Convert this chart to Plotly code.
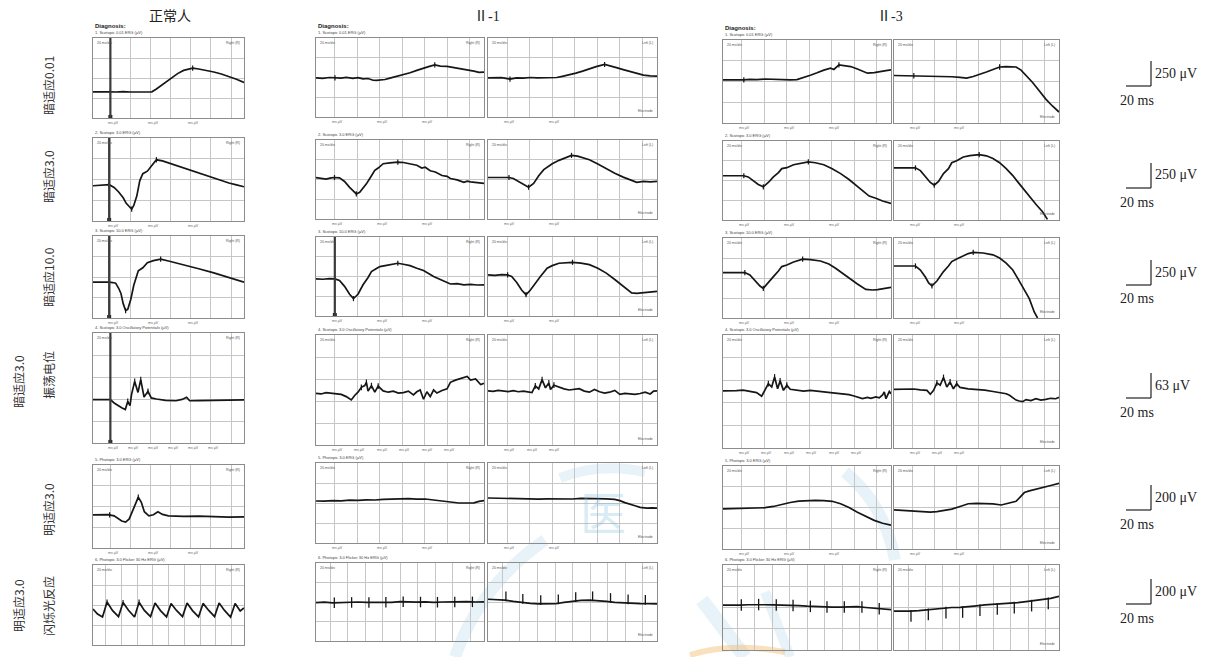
import numpy as np
import plotly.graph_objects as go

W, H = 1216, 657

# ---------------- data (x: % of sweep width, y: grid divisions from bottom) ----------------
# Row 1  scotopic 0.01
N1_x = [0,5,11.5,15,20,25,30,35,39,42,45,48,52,56,60,63,66,70,75,80,85,90,95,100]
N1_y = [1.31,1.32,1.31,1.30,1.32,1.30,1.31,1.30,1.31,1.45,1.62,1.80,2.02,2.22,2.38,2.45,2.49,2.45,2.38,2.30,2.20,2.08,1.94,1.78]
A1L_x = [0,4,8,11.3,15,18,22,25,28,31,34,36,38,41,44,48,52,56,60,64,67,70.7,74,78,82,86,90,94,97,100]
A1L_y = [1.98,1.96,2.00,1.98,1.97,2.01,1.96,1.99,1.93,1.95,1.86,1.85,1.86,1.90,1.97,2.05,2.14,2.24,2.36,2.48,2.55,2.64,2.58,2.56,2.50,2.47,2.40,2.32,2.26,2.27]
A1R_x = [0,4,8,13,17,21,25,29,33,37,40.7,44,48,52,56,60,64,69,72,76,80,84,88,92,96,100]
A1R_y = [1.98,1.97,1.99,1.92,1.98,1.97,2.00,1.98,1.99,2.00,2.00,2.06,2.13,2.22,2.32,2.44,2.55,2.66,2.60,2.50,2.40,2.30,2.20,2.12,2.08,2.07]
B1L_x = [0,5,10,12.4,16,20,25,30,35,40,44,48,52,56,60,64,66,69,72,76,80,84,86,90,94,97,100]
B1L_y = [2.08,2.07,2.09,2.08,2.10,2.09,2.12,2.10,2.09,2.08,2.09,2.18,2.30,2.42,2.55,2.64,2.58,2.80,2.78,2.72,2.60,2.45,2.40,2.43,2.50,2.52,2.56]
B1R_x = [0,5,10,12,16,20,25,30,35,40,44,48,52,56,60,64,68,72,74,77,80,84,88,92,96,100]
B1R_y = [2.29,2.28,2.30,2.28,2.27,2.26,2.25,2.24,2.23,2.20,2.16,2.24,2.34,2.46,2.58,2.70,2.72,2.73,2.70,2.55,2.30,1.95,1.55,1.15,0.82,0.53]

# Row 2  scotopic 3.0
N2_x = [0,5,10.7,14,17,20,22,24,25.6,27,29,31,33,36,40,42,46,52,60,68,75,82,90,95,100]
N2_y = [1.70,1.73,1.75,1.62,1.40,1.12,0.85,0.70,0.57,0.75,1.20,1.95,2.28,2.40,2.78,2.95,2.90,2.75,2.55,2.38,2.20,2.02,1.83,1.74,1.65]
A2L_x = [0,3,6,9,11,14,17,20,22,24,26,28,30,32,35,37,40,44,48.7,52,56,60,63,65,68,71,75,78,80,84,88,90,92,95,100]
A2L_y = [2.10,2.05,2.02,2.08,2.10,2.08,1.90,1.60,1.42,1.27,1.35,1.55,1.78,2.05,2.46,2.58,2.80,2.84,2.88,2.86,2.80,2.72,2.58,2.62,2.44,2.38,2.20,2.16,2.05,1.98,1.86,1.92,1.88,1.84,1.80]
A2R_x = [0,4,8,12.4,15,18,21,24,27,30,33,35,38,42,46,49.4,53,57,60,65,70,75,80,84,88,92,96,100]
A2R_y = [2.10,2.11,2.09,2.10,2.05,1.90,1.72,1.61,1.80,2.19,2.50,2.62,2.80,2.97,3.10,3.22,3.18,3.08,3.00,2.78,2.54,2.32,2.12,1.98,1.86,1.90,1.88,1.90]
B2L_x = [0,5,10,12.4,15,18,21,24,27,30,33,35,38,42,46,50.8,55,60,65,70,75,80,84,87,91,95,100]
B2L_y = [2.24,2.24,2.25,2.24,2.18,2.00,1.80,1.68,1.90,2.18,2.40,2.60,2.65,2.80,2.88,2.94,2.90,2.80,2.60,2.35,2.05,1.68,1.40,1.21,1.10,0.96,0.84]
B2R_x = [0,5,10,13,16,19,22,24.4,27,30,33,35,38,42,46,51.6,56,60,64,68,72,75,78,82,86,90,93]
B2R_y = [2.64,2.63,2.65,2.64,2.50,2.20,1.90,1.76,1.95,2.35,2.60,2.90,3.00,3.19,3.26,3.31,3.25,3.11,2.90,2.60,2.25,1.93,1.62,1.18,0.80,0.42,0.03]

# Row 3  scotopic 10.0
N3_x = [0,5,10.7,13,15,17,18.5,20,21.6,23,25,27,30,33,36,40,44.8,50,60,70,80,90,100]
N3_y = [1.75,1.76,1.75,1.73,1.70,1.45,1.20,0.70,0.36,0.42,0.90,1.60,2.30,2.45,2.70,2.80,2.87,2.78,2.60,2.40,2.20,1.98,1.75]
A3L_x = [0,4,8,11.2,14,17,20,22.3,25,28,31,33,36,38,42,45,48.7,52,56,60,64,67,70,74,77,80,84,88,92,96,100]
A3L_y = [1.88,1.86,1.89,1.88,1.80,1.50,1.10,0.88,1.10,1.58,1.95,2.25,2.40,2.50,2.56,2.62,2.67,2.62,2.55,2.42,2.30,2.15,2.00,1.85,1.75,1.62,1.64,1.58,1.60,1.57,1.58]
A3R_x = [0,4,8,11.6,14,17,20,22.5,25,28,31,35,38,42,46,50,55,60,65,70,75,80,85,88,92,96,100]
A3R_y = [2.08,2.06,2.09,2.08,2.00,1.70,1.30,1.08,1.30,1.67,2.00,2.42,2.55,2.67,2.70,2.72,2.68,2.60,2.42,2.17,1.85,1.50,1.17,1.15,1.18,1.22,1.25]
B3L_x = [0,5,10,13,16,19,22,24,27,30,33,35,38,42,47.4,52,58,63,67,71,75,80,85,89,92,96,100]
B3L_y = [2.27,2.27,2.28,2.27,2.15,1.85,1.60,1.48,1.75,2.07,2.35,2.57,2.65,2.80,2.94,2.92,2.85,2.70,2.49,2.25,1.98,1.70,1.43,1.40,1.42,1.48,1.53]
B3R_x = [0,5,10,13,16,19,21,23,26,30,33,35,38,42,45,48,54,60,64,68,72,75,78,82,85,87]
B3R_y = [2.60,2.59,2.61,2.60,2.40,2.05,1.75,1.61,1.85,2.32,2.60,2.82,2.95,3.12,3.22,3.28,3.25,3.16,3.00,2.74,2.40,1.98,1.55,0.97,0.30,0.00]

# Row 4  oscillatory potentials (5 divisions)
N4_x = [0,5,11.5,14,17,19,21.4,22.5,23,24.5,25.5,27.6,29.8,31.6,33.8,36.4,38.6,42,48,55,59,62,64,70,80,90,100]
N4_y = [1.97,1.97,1.97,1.82,1.68,1.60,1.52,1.80,1.89,1.70,2.20,2.80,2.30,2.88,2.09,2.35,2.05,2.00,1.94,1.92,1.98,2.08,1.92,1.93,1.95,1.94,1.96]
A4L_x = [0,3,6,9,12,15,18,21,23,25,27,29,30,31,33,35,37,40,43,46,49,52,55,58,60,62,64,66,68,70,72,75,78,80,83,86,90,92,95,98,100]
A4L_y = [2.35,2.32,2.38,2.36,2.33,2.30,2.20,2.05,2.25,2.40,2.62,2.70,2.85,2.45,2.70,2.40,2.68,2.46,2.40,2.45,2.36,2.38,2.45,2.28,2.42,2.50,2.08,2.42,2.20,2.50,2.36,2.48,2.55,2.85,2.95,3.02,3.12,2.95,3.00,2.75,2.80]
A4R_x = [0,3,6,9,12,15,18,21,24,26,28,30,32,34,36,37,39,42,45,48,51,54,57,60,63,66,69,72,75,78,81,84,87,90,93,96,98,100]
A4R_y = [2.46,2.44,2.48,2.45,2.43,2.47,2.42,2.45,2.40,2.38,2.69,2.55,2.97,2.60,2.82,2.52,2.72,2.62,2.55,2.50,2.52,2.56,2.45,2.40,2.52,2.42,2.36,2.40,2.48,2.30,2.35,2.32,2.30,2.34,2.40,2.32,2.45,2.46]
B4L_x = [0,4,8,12,16,20,23,25,27,29,30.7,32.5,34,36,38,40,44,48,52,56,60,64,68,72,75,78,81,83,86,88,91,93,95,96,97,99,100]
B4L_y = [2.53,2.52,2.54,2.56,2.50,2.45,2.29,2.60,2.85,2.70,3.14,2.62,2.97,2.55,2.78,2.60,2.56,2.52,2.55,2.50,2.48,2.45,2.42,2.38,2.36,2.30,2.25,2.19,2.24,2.20,2.26,2.22,2.35,2.48,2.18,2.50,2.40]
B4R_x = [0,4,8,12,16,20,22,24,26,28,30,32,34,36,38,40,45,50,55,60,64,68,70,72,74,76,78,80,83,86,89,92,95,98,100]
B4R_y = [2.59,2.60,2.58,2.61,2.57,2.55,2.38,2.55,2.88,2.78,3.12,2.70,2.92,2.62,2.85,2.68,2.62,2.60,2.56,2.50,2.45,2.40,2.33,2.23,2.12,2.08,2.05,2.14,2.10,2.18,2.12,2.15,2.20,2.18,2.24]

# Row 5  photopic 3.0
N5_x = [0,5,10,14,17,19,21.6,24,26,28,30,32,34,37,40,43,46,50,60,70,80,90,100]
N5_y = [1.60,1.60,1.61,1.55,1.42,1.30,1.25,1.40,1.75,2.10,2.45,2.20,1.75,1.55,1.60,1.75,1.62,1.55,1.52,1.54,1.50,1.49,1.50]
A5L_x = [0,5,10,15,20,25,30,35,40,45,50,55,60,65,70,75,80,85,90,94,97,100]
A5L_y = [2.10,2.09,2.12,2.11,2.14,2.13,2.16,2.15,2.18,2.19,2.20,2.22,2.19,2.20,2.15,2.10,2.04,2.00,2.00,2.01,2.08,2.12]
A5R_x = [0,5,10,15,20,25,30,35,40,45,50,55,60,65,70,75,78,81,84,87,90,94,97,100]
A5R_y = [2.25,2.24,2.22,2.23,2.20,2.22,2.19,2.21,2.20,2.22,2.20,2.23,2.22,2.24,2.21,2.18,2.12,2.02,1.92,1.86,1.78,1.74,1.76,1.74]
B5L_x = [0,5,10,15,20,25,30,35,40,45,50,55,60,65,70,75,80,85,90,95,100]
B5L_y = [1.93,1.94,1.95,1.96,1.98,1.99,2.05,2.15,2.24,2.31,2.33,2.34,2.33,2.30,2.18,2.00,1.77,1.58,1.38,1.24,1.15]
B5R_x = [0,5,10,15,18,22,26,30,35,40,45,50,55,60,65,70,74,77,79,82,86,90,95,100]
B5R_y = [1.89,1.86,1.83,1.79,1.77,1.78,1.80,1.84,1.92,2.05,2.18,2.20,2.20,2.17,2.12,2.20,2.30,2.55,2.72,2.80,2.87,2.94,3.06,3.16]

# Row 6  photopic 3.0 flicker
N6_x = [0,3,6.3,9.3,13,16.9,19.9,23.5,27.5,30.5,34,38.1,41.1,44.7,48.7,51.7,55.3,59.3,62.3,65.9,69.9,72.9,76.5,80.5,83.5,87.1,91.1,94.1,97.5,100]
N6_y = [1.80,1.55,1.40,2.15,1.72,1.42,2.12,1.74,1.40,2.14,1.73,1.42,2.10,1.72,1.41,2.08,1.73,1.42,2.10,1.72,1.41,2.08,1.74,1.42,2.10,1.73,1.40,2.08,1.70,1.85]
A6L_x = [0,5,10,15,20,25,30,35,40,45,50,55,60,65,70,75,80,85,90,95,100]
A6L_y = [1.97,1.99,1.96,1.98,1.97,2.00,1.98,1.97,1.99,1.98,2.02,2.00,1.99,2.01,1.98,2.00,2.01,1.99,2.02,2.00,2.01]
A6R_x = [0,5,10,15,20,25,30,35,40,45,50,55,60,65,70,75,80,85,90,95,100]
A6R_y = [2.14,2.13,2.10,2.03,1.97,1.93,1.90,1.89,1.91,1.98,2.04,2.08,2.10,2.08,2.03,1.98,1.95,1.93,1.92,1.91,1.90]
B6L_x = [0,5,10,15,20,25,30,35,40,45,50,55,60,65,70,75,80,85,90,95,100]
B6L_y = [2.11,2.10,2.11,2.13,2.14,2.13,2.12,2.12,2.10,2.09,2.06,2.04,2.03,2.02,2.02,2.03,2.04,2.00,1.97,1.93,1.90]
B6R_x = [0,5,10,15,20,25,30,35,40,45,50,55,60,65,70,75,80,85,90,95,100]
B6R_y = [1.83,1.82,1.83,1.85,1.89,1.95,1.98,2.00,2.01,2.03,2.08,2.12,2.14,2.17,2.20,2.23,2.28,2.33,2.38,2.43,2.52]

# marker (cursor) positions, % of sweep
N1_m = [11.5, 66]; A1L_m = [11.3, 70.7]; A1R_m = [13, 69]; B1L_m = [12.4, 69]; B1R_m = [12, 64]
N2_m = [10.7, 25.6, 42]; A2L_m = [11, 24, 48.7]; A2R_m = [12.4, 24, 49.4]; B2L_m = [12.4, 24, 50.8]; B2R_m = [13, 24.4, 51.6]
N3_m = [10.7, 21.6, 44.8]; A3L_m = [11.2, 22.3, 48.7]; A3R_m = [11.6, 22.5, 50]; B3L_m = [13, 24, 47.4]; B3R_m = [13, 23, 48]
N4_m = [23, 27.6, 31.6, 36.4]; A4L_m = [27, 30, 33, 37]; A4R_m = [28, 32, 36, 39]; B4L_m = [27, 30.7, 34, 38]; B4R_m = [26, 30, 34, 38]
N5_m = [11, 30]; A5L_m = []; A5R_m = []; B5L_m = []; B5R_m = []
N6_m = [9.3, 19.9, 30.5]
A6L_t = [10.9, 21.2, 31.5, 41.6, 51.9, 62.2, 72.3, 82.6, 93.1]
A6R_t = [10.6, 20.6, 31.2, 41.6, 51.9, 61.9, 72.5, 82.9, 93.1]
B6L_t = [10.9, 21.2, 31.7, 41.7, 52.0, 61.9, 72.2, 82.7, 93.0]
B6R_t = [10.3, 20.8, 31.5, 41.6, 52.1, 62.6, 72.9, 83.4, 93.5]

# text content
col_headers = ["正常人", "Ⅱ-1", "Ⅱ-3"]
row_labels = ["暗适应0.01", "暗适应3.0", "暗适应10.0", "振荡电位", "明适应3.0", "闪烁光反应"]
row_labels_outer = [None, None, None, "暗适应3.0", None, "明适应3.0"]
scale_amp = ["250 μV", "250 μV", "250 μV", "63 μV", "200 μV", "200 μV"]
scale_time = ["20 ms"] * 6
protocols = ["1. Scotopic 0.01 ERG (µV)", "2. Scotopic 3.0 ERG (µV)", "3. Scotopic 10.0 ERG (µV)",
             "4. Scotopic 3.0 Oscillatory Potentials (µV)", "5. Photopic 3.0 ERG (µV)",
             "6. Photopic 3.0 Flicker 30 Hz ERG (µV)"]

# ---------------- layout geometry (pixels) ----------------
col_px = [(93, 244), (316, 484), (488, 657), (723, 891), (894, 1059)]
group_of_col = [0, 1, 1, 2, 2]
row_px = [  # per group: normal, II-1, II-3
    [(38, 118), (38, 117), (40, 123)],
    [(138, 221), (140, 219), (141, 220)],
    [(236, 318), (237, 316), (238, 318)],
    [(333, 443), (335, 445), (335, 448)],
    [(465, 548), (463, 543), (466, 549)],
    [(565, 645), (563, 641), (565, 650)],
]
row_ndiv = [4, 4, 4, 5, 4, 4]
GX = [11.3, 24.7, 38.0, 51.4, 64.8, 78.1, 91.5]
GX6 = [8.5, 18.9, 29.3, 39.7, 50.1, 60.5, 70.9, 81.3, 91.7]
stim = {(0, 0): 11.5, (1, 0): 10.7, (2, 0): 10.7, (3, 0): 11.5, (2, 1): 11.2}

names = ["N", "A", "A", "B", "B"]
sides = ["", "L", "R", "L", "R"]
G = globals()

def px(x):
    return x / W

def py(y):
    return 1 - y / H

def ppath(pts):
    return " ".join(t if t.isalpha() else f"{px(float(t.split(',')[0])):.5f},{py(float(t.split(',')[1])):.5f}"
                    for t in pts.split())

fig = go.Figure()
layout = dict(width=W, height=H, autosize=False, margin=dict(l=0, r=0, t=0, b=0),
              paper_bgcolor="white", plot_bgcolor="rgba(0,0,0,0)", showlegend=False)
shapes, annotations = [], []

# watermark (faint journal logo), drawn beneath everything
wm_blue = "rgba(120,190,220,0.18)"
for path, wdt, col in [
    ("M 455,657 Q 480,585 545,540", 12, wm_blue),
    ("M 845,472 Q 885,505 895,560", 12, wm_blue),
    ("M 702,600 L 745,657", 14, wm_blue),
    ("M 765,592 L 790,657", 10, wm_blue),
    ("M 560,478 Q 600,462 645,472", 10, wm_blue),
    ("M 690,655 Q 730,642 785,652", 6, "rgba(240,170,70,0.35)"),
]:
    shapes.append(dict(type="path", xref="paper", yref="paper", layer="below", path=ppath(path),
                       line=dict(color=col, width=wdt)))
annotations.append(dict(x=px(603), y=py(545), xref="paper", yref="paper", text="医", showarrow=False,
                        font=dict(family="Noto Sans CJK SC", size=46, color="rgba(120,190,220,0.30)")))

k = 0
for r in range(6):
    nd = row_ndiv[r]
    for c in range(5):
        k += 1
        g = group_of_col[c]
        x0, x1 = col_px[c]
        y0, y1 = row_px[r][g]
        key = f"{names[c]}{r+1}{sides[c]}"
        xs, ys = G[key + "_x"], G[key + "_y"]
        xa = "x" if k == 1 else f"x{k}"
        ya = "y" if k == 1 else f"y{k}"
        axs = "" if k == 1 else str(k)
        layout["xaxis" + axs] = dict(domain=[px(x0), px(x1)], range=[0, 100], anchor=ya,
                                    tickmode="array", tickvals=GX6 if r == 5 else GX,
                                    showgrid=True, gridcolor="#c6c6c6", gridwidth=1,
                                    showticklabels=False, ticks="", zeroline=False,
                                    showline=True, linecolor="#8c8c8c", linewidth=1, mirror=True,
                                    fixedrange=True)
        layout["yaxis" + axs] = dict(domain=[py(y1), py(y0)], range=[0, nd], anchor=xa,
                                    tickmode="linear", tick0=0, dtick=1,
                                    showgrid=True, gridcolor="#c6c6c6", gridwidth=1,
                                    showticklabels=False, ticks="", zeroline=False,
                                    showline=True, linecolor="#8c8c8c", linewidth=1, mirror=True,
                                    fixedrange=True)
        fig.add_trace(go.Scatter(x=xs, y=ys, xaxis=xa, yaxis=ya, mode="lines",
                                 line=dict(color="#161616", width=1.7), hoverinfo="skip"))
        # cursor ticks
        if r < 5 or c == 0:
            mk = G.get(key + "_m", [])
            tx, ty = [], []
            for m in mk:
                yv = float(np.interp(m, xs, ys))
                tx += [m, m, None]
                ty += [yv - 0.13, yv + 0.13, None]
            if tx:
                fig.add_trace(go.Scatter(x=tx, y=ty, xaxis=xa, yaxis=ya, mode="lines",
                                         line=dict(color="#161616", width=1.2), hoverinfo="skip"))
        else:
            tk = G[key + "_t"]
            tx, ty = [], []
            for m in tk:
                yv = float(np.interp(m, xs, ys))
                if key == "A6R":
                    a, b = yv - 0.05, yv + 0.45
                elif key == "B6R":
                    a, b = yv + 0.05, yv - 0.5
                else:
                    a, b = yv - 0.27, yv + 0.27
                tx += [m, m, None]
                ty += [a, b, None]
            fig.add_trace(go.Scatter(x=tx, y=ty, xaxis=xa, yaxis=ya, mode="lines",
                                     line=dict(color="#161616", width=1.3), hoverinfo="skip"))
        # stimulus marker
        if (r, c) in stim:
            s = stim[(r, c)]
            shapes.append(dict(type="line", xref=xa, yref=ya, x0=s, x1=s, y0=0, y1=nd,
                               line=dict(color="#3a3a3a", width=2.2)))
            fig.add_trace(go.Scatter(x=[s], y=[0.05], xaxis=xa, yaxis=ya, mode="markers",
                                     marker=dict(symbol="square", size=4, color="#222"),
                                     hoverinfo="skip", cliponaxis=False))
        # tiny instrument labels
        if c in (0, 1, 3):
            annotations.append(dict(x=px(x0), y=py(y0 - 1), xref="paper", yref="paper",
                                    text=protocols[r], showarrow=False, xanchor="left", yanchor="bottom",
                                    font=dict(family="Arial", size=4, color="#444")))
        annotations.append(dict(x=px(x0 + 2), y=py(y0 + 1), xref="paper", yref="paper",
                                text="20 ms/div", showarrow=False, xanchor="left", yanchor="top",
                                font=dict(family="Arial", size=3.5, color="#555")))
        annotations.append(dict(x=px(x1 - 2), y=py(y0 + 1), xref="paper", yref="paper",
                                text="Right (R)" if c in (0, 1, 3) else "Left (L)", showarrow=False,
                                xanchor="right", yanchor="top",
                                font=dict(family="Arial", size=3.5, color="#555")))
        if c in (2, 4):
            annotations.append(dict(x=px(x1 - 2), y=py(y1 - 2), xref="paper", yref="paper",
                                    text="Electrode", showarrow=False, xanchor="right", yanchor="bottom",
                                    font=dict(family="Arial", size=3.5, color="#555")))
        # cursor readouts below the sweep
        if r < 5:
            gx = GX
            step = 1 if r == 3 else 2
            for j in range(0, len(gx) - 1, step):
                if c in (2, 4) and j > 2:
                    break
                xp = x0 + (x1 - x0) * (gx[j] - 3) / 100
                annotations.append(dict(x=px(xp), y=py(y1 + 1), xref="paper", yref="paper",
                                        text="ms µV", showarrow=False, xanchor="left", yanchor="top",
                                        font=dict(family="Arial", size=3.5, color="#666")))

# "Diagnosis:" headers
for xx, yy in [(93, 31), (316, 31), (723, 33)]:
    annotations.append(dict(x=px(xx), y=py(yy), xref="paper", yref="paper", text="<b>Diagnosis:</b>",
                            showarrow=False, xanchor="left", yanchor="bottom",
                            font=dict(family="Arial", size=6, color="#222")))

# column headers
for txt, xx in zip(col_headers, [170, 487, 890]):
    annotations.append(dict(x=px(xx), y=py(16), xref="paper", yref="paper", text=txt, showarrow=False,
                            xanchor="center", yanchor="middle",
                            font=dict(family="Liberation Serif, Noto Sans CJK SC", size=14, color="#222")))

# row labels (rotated)
label_y = [86, 177, 277, 375, 510, 606]
outer_y = [None, None, None, 382, None, 606]
for r in range(6):
    annotations.append(dict(x=px(48), y=py(label_y[r]), xref="paper", yref="paper", text=row_labels[r],
                            showarrow=False, textangle=-90, xanchor="center", yanchor="middle",
                            font=dict(family="Noto Sans CJK SC", size=12, color="#333")))
    if row_labels_outer[r]:
        annotations.append(dict(x=px(18), y=py(outer_y[r]), xref="paper", yref="paper",
                                text=row_labels_outer[r], showarrow=False, textangle=-90,
                                xanchor="center", yanchor="middle",
                                font=dict(family="Noto Sans CJK SC", size=12, color="#333")))

# calibration bars
amp_y = [73, 175, 272, 385, 497, 591]
for r in range(6):
    ty = amp_y[r]
    shapes.append(dict(type="line", xref="paper", yref="paper", x0=px(1151), x1=px(1151),
                       y0=py(ty - 12), y1=py(ty + 13), line=dict(color="#222", width=1.2)))
    shapes.append(dict(type="line", xref="paper", yref="paper", x0=px(1126), x1=px(1151),
                       y0=py(ty + 13), y1=py(ty + 13), line=dict(color="#222", width=1.2)))
    annotations.append(dict(x=px(1153), y=py(ty), xref="paper", yref="paper", text=scale_amp[r],
                            showarrow=False, xanchor="left", yanchor="middle",
                            font=dict(family="Liberation Serif", size=14, color="#222")))
    annotations.append(dict(x=px(1118), y=py(ty + 27), xref="paper", yref="paper", text=scale_time[r],
                            showarrow=False, xanchor="left", yanchor="middle",
                            font=dict(family="Liberation Serif", size=14, color="#222")))

layout["shapes"] = shapes
layout["annotations"] = annotations
fig.update_layout(**layout)
fig.write_html("out.html", config={"displayModeBar": False, "staticPlot": True},
               post_script="document.body.style.margin='0';document.body.style.padding='0';"
                           "document.body.style.overflow='hidden';")
